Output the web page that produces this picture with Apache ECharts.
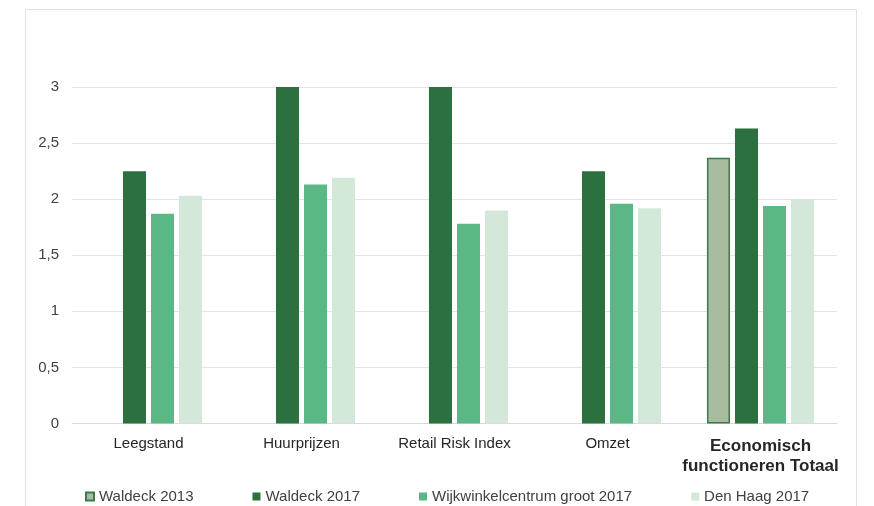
<!DOCTYPE html>
<html>
<head>
<meta charset="utf-8">
<script src="https://cdn.jsdelivr.net/npm/echarts@6/dist/echarts.min.js"></script>
<style>
  html, body { margin: 0; padding: 0; background: #ffffff; }
  #chart { width: 874px; height: 506px; }
</style>
</head>
<body>
<div id="chart"></div>
<script>
// Scores per indicator
const categories = ['Leegstand', 'Huurprijzen', 'Retail Risk Index', 'Omzet', 'Economisch functioneren Totaal'];
const seriesNames = ['Waldeck 2013', 'Waldeck 2017', 'Wijkwinkelcentrum groot 2017', 'Den Haag 2017'];
const waldeck2013 = [null, null, null, null, 2.37];
const waldeck2017 = [2.25, 3, 3, 2.25, 2.63];
const wijkwinkelGroot2017 = [1.87, 2.13, 1.78, 1.96, 1.94];
const denHaag2017 = [2.03, 2.19, 1.9, 1.92, 2.0];
const yTicks = [0, 0.5, 1, 1.5, 2, 2.5, 3];

const FONT = '"Liberation Sans", Arial, sans-serif';

const chart = echarts.init(document.getElementById('chart'), null, { renderer: 'canvas' });

function barSeries(name, data, color, extra) {
  return Object.assign({
    name: name,
    type: 'bar',
    data: data,
    barGap: '21.7%',
    barCategoryGap: '30%',
    itemStyle: { color: color },
    emphasis: { disabled: true }
  }, extra || {});
}

chart.setOption({
  animation: false,
  backgroundColor: '#ffffff',
  graphic: [{
    type: 'rect',
    silent: true,
    z: -10,
    shape: { x: 25.5, y: 9.5, width: 831, height: 520 },
    style: { fill: 'none', stroke: '#e2e2e2', lineWidth: 1 }
  }],
  grid: { left: 72, right: 37, top: 87, height: 336.5, containLabel: false },
  legend: {
    left: 85,
    top: 489,
    padding: 0,
    itemWidth: 8,
    itemHeight: 8,
    itemGap: 59,
    icon: 'rect',
    data: seriesNames,
    textStyle: { fontFamily: FONT, fontSize: 15, color: '#404040' }
  },
  xAxis: {
    type: 'category',
    data: categories,
    axisLine: { lineStyle: { color: '#d9d9d9', width: 1 } },
    axisTick: { show: false },
    axisLabel: {
      interval: 0,
      margin: 13,
      fontFamily: FONT,
      fontSize: 15,
      color: '#262626',
      formatter: function (v) {
        if (v === 'Economisch functioneren Totaal') {
          return '{b|Economisch}\n{b|functioneren Totaal}';
        }
        return v;
      },
      rich: {
        b: { fontFamily: FONT, fontSize: 17, fontWeight: 'bold', color: '#262626', lineHeight: 20 }
      }
    }
  },
  yAxis: {
    type: 'value',
    min: yTicks[0],
    max: yTicks[yTicks.length - 1],
    interval: 0.5,
    axisLine: { show: false },
    axisTick: { show: false },
    splitLine: { lineStyle: { color: '#e3e3e3', width: 1 } },
    axisLabel: {
      margin: 13,
      fontFamily: FONT,
      fontSize: 15,
      color: '#404040',
      formatter: function (v) { return String(v).replace('.', ','); }
    }
  },
  series: [
    barSeries(seriesNames[0], waldeck2013, '#a8bca0', {
      itemStyle: { color: '#a8bca0', borderColor: '#3b7a4a', borderWidth: 1.5 }
    }),
    barSeries(seriesNames[1], waldeck2017, '#2c7040'),
    barSeries(seriesNames[2], wijkwinkelGroot2017, '#5cb786'),
    barSeries(seriesNames[3], denHaag2017, '#d3e8d8')
  ]
});
</script>
</body>
</html>
